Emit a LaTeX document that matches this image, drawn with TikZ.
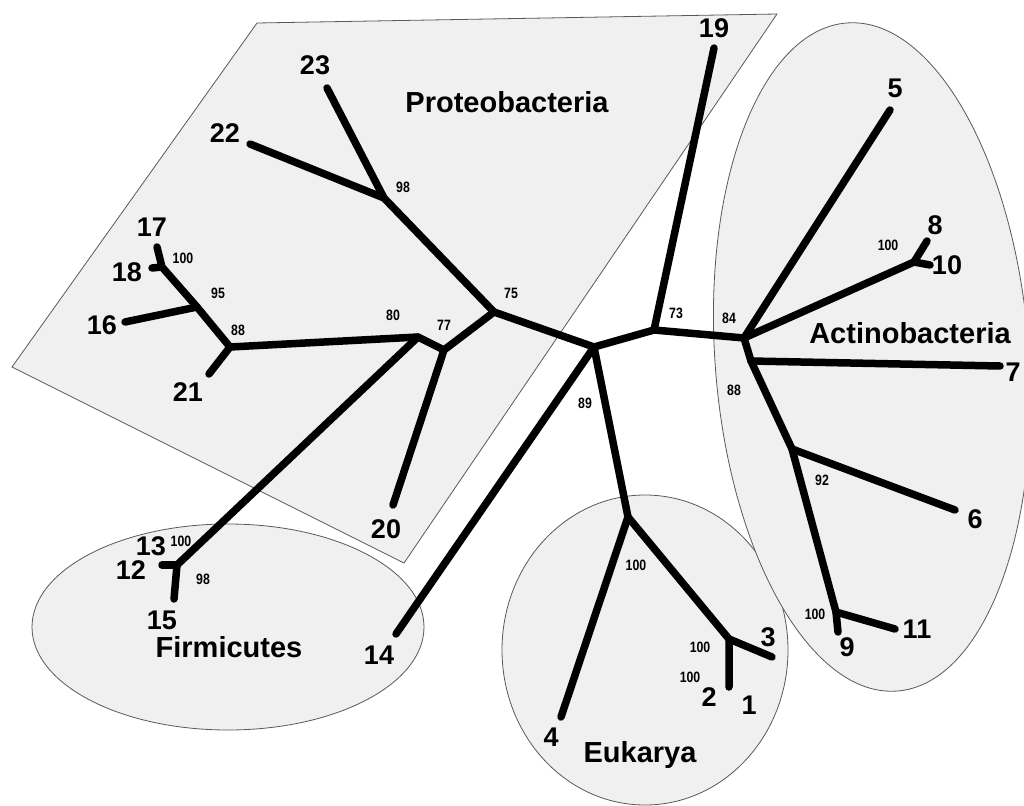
\documentclass[tikz,border=0pt]{standalone}
\usepackage{fontspec}
\setmainfont{Liberation Sans}
\newfontfamily\bootfont[FakeStretch=0.82]{Liberation Sans}
\begin{document}
\begin{tikzpicture}[x=1pt,y=-1pt,
  leaf/.style={font=\fontsize{27}{27}\selectfont\bfseries, inner sep=0pt},
  boot/.style={font=\bootfont\fontsize{15}{15}\selectfont\bfseries, inner sep=0pt},
  grp/.style={font=\fontsize{29}{29}\selectfont\bfseries, inner sep=0pt},
  branch/.style={line width=7.5pt, line cap=round, line join=round},
  region/.style={fill=black!6, draw=black!65, line width=0.8pt}]
\useasboundingbox[fill=white] (0,0) rectangle (1024,805);

% regions
\draw[region] (257,23) -- (777,14) -- (404,563) -- (12,367) -- cycle;
\draw[region] (228,627) ellipse [x radius=196, y radius=103];
\draw[region] (645,650) ellipse [x radius=143, y radius=155];
\draw[region, rotate around={4.3:(872,357)}] (872,357) ellipse [x radius=157, y radius=335];

% tree nodes
\coordinate (R) at (594,347);
\coordinate (n73) at (654,330);
\coordinate (t19) at (714,48);
\coordinate (n84) at (744,338);
\coordinate (t5) at (890,110);
\coordinate (n810) at (914,262);
\coordinate (t8) at (927,241);
\coordinate (t10) at (930,265);
\coordinate (n7) at (751,361);
\coordinate (t7) at (1000,366);
\coordinate (n92) at (792,449);
\coordinate (t6) at (955,510);
\coordinate (n911) at (836,612);
\coordinate (t9) at (838,632);
\coordinate (t11) at (895,629);
\coordinate (nE) at (628,517);
\coordinate (t4) at (561,717);
\coordinate (n123) at (729,639);
\coordinate (t3) at (772,657);
\coordinate (t12) at (729,687);
\coordinate (t14) at (396,634);
\coordinate (n75) at (494,312);
\coordinate (n98) at (384,198);
\coordinate (t23) at (327,88);
\coordinate (t22) at (250,144);
\coordinate (n77) at (444,350);
\coordinate (t20) at (393,505);
\coordinate (n80) at (418,337);
\coordinate (nF) at (177,565);
\coordinate (t1213) at (162,565);
\coordinate (t15) at (174,599);
\coordinate (n88) at (230,347);
\coordinate (t21) at (209,374);
\coordinate (n95) at (197,307);
\coordinate (t16) at (125,322);
\coordinate (n1718) at (162,267);
\coordinate (t17) at (157,247);
\coordinate (t18) at (152,268);

% branches
\draw[branch] (t23) -- (n98) -- (n75) -- (R) -- (n73) -- (n84) -- (n7) -- (n92) -- (n911) -- (t9);
\draw[branch] (t22) -- (n98);
\draw[branch] (n73) -- (t19);
\draw[branch] (n84) -- (t5);
\draw[branch] (n84) -- (n810) -- (t8);
\draw[branch] (n810) -- (t10);
\draw[branch] (n7) -- (t7);
\draw[branch] (n92) -- (t6);
\draw[branch] (n911) -- (t11);
\draw[branch] (R) -- (nE) -- (n123) -- (t12);
\draw[branch] (nE) -- (t4);
\draw[branch] (n123) -- (t3);
\draw[branch] (R) -- (t14);
\draw[branch] (n75) -- (n77) -- (t20);
\draw[branch] (n77) -- (n80) -- (nF) -- (t15);
\draw[branch] (nF) -- (t1213);
\draw[branch] (n80) -- (n88) -- (n95) -- (n1718) -- (t17);
\draw[branch] (n88) -- (t21);
\draw[branch] (n95) -- (t16);
\draw[branch] (n1718) -- (t18);

% leaf labels
\node[leaf] (L23) at (315,65) {23};
\node[leaf] (L22) at (225,133) {22};
\node[leaf] (L17) at (152,227) {17};
\node[leaf] (L18) at (127,272) {18};
\node[leaf] (L16) at (102,325) {16};
\node[leaf] (L21) at (188,392) {21};
\node[leaf] (L20) at (386,529) {20};
\node[leaf] (L13) at (151,546) {13};
\node[leaf] (L12) at (131,570) {12};
\node[leaf] (L15) at (162,620) {15};
\node[leaf] (L14) at (379,655) {14};
\node[leaf] (L4) at (551,737) {4};
\node[leaf] (L2) at (709,697) {2};
\node[leaf] (L1) at (749,705) {1};
\node[leaf] (L3) at (768,637) {3};
\node[leaf] (L9) at (847,647) {9};
\node[leaf] (L11) at (917,629) {11};
\node[leaf] (L6) at (975,519) {6};
\node[leaf] (L7) at (1013,372) {7};
\node[leaf] (L19) at (714,28) {19};
\node[leaf] (L5) at (895,88) {5};
\node[leaf] (L8) at (935,225) {8};
\node[leaf] (L10) at (947,265) {10};

% bootstrap values
\node[boot] (b98a) at (403,187) {98};
\node[boot] (b75) at (511,293) {75};
\node[boot] (b80) at (393,315) {80};
\node[boot] (b77) at (444,325) {77};
\node[boot] (b73) at (676,313) {73};
\node[boot] (b84) at (729,318) {84};
\node[boot] (b100a) at (888,245) {100};
\node[boot] (b88a) at (734,390) {88};
\node[boot] (b92) at (822,480) {92};
\node[boot] (b100b) at (815,614) {100};
\node[boot] (b100c) at (636,565) {100};
\node[boot] (b100d) at (700,647) {100};
\node[boot] (b100e) at (690,677) {100};
\node[boot] (b89) at (585,403) {89};
\node[boot] (b100f) at (183,258) {100};
\node[boot] (b95) at (218,293) {95};
\node[boot] (b88b) at (238,330) {88};
\node[boot] (b100g) at (181,541) {100};
\node[boot] (b98b) at (203,579) {98};

% group labels
\node[grp] (gP) at (507,102) {Proteobacteria};
\node[grp] (gA) at (910,333) {Actinobacteria};
\node[grp] (gF) at (229,647) {Firmicutes};
\node[grp] (gE) at (640,755) {Eukarya};
\end{tikzpicture}
\end{document}
